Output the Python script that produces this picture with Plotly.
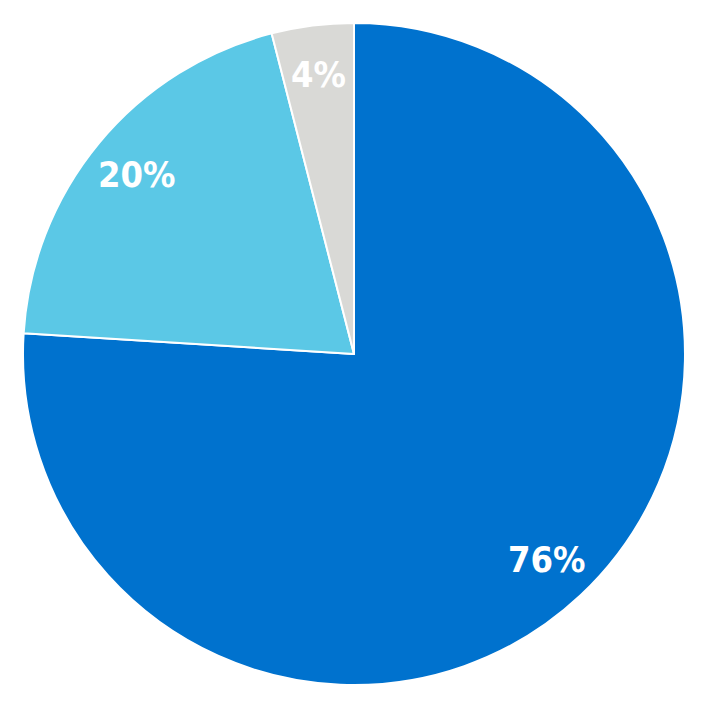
import math
import plotly.graph_objects as go

labels = ["Blue", "Light blue", "Gray"]
values = [76, 20, 4]
text_labels = ["76%", "20%", "4%"]
colors = ["#0072CE", "#5BC8E6", "#D9D9D6"]

fig = go.Figure(go.Pie(
    labels=labels,
    values=values,
    textinfo="none",
    sort=False,
    direction="clockwise",
    rotation=0,
    marker=dict(colors=colors, line=dict(color="white", width=2)),
    showlegend=False,
    hoverinfo="label+percent",
))

# labels placed at the middle angle of each slice, near the rim
total = sum(values)
cum = 0
for v, t in zip(values, text_labels):
    mid = (cum + v / 2) / total * 2 * math.pi
    cum += v
    r = 0.425
    fig.add_annotation(
        x=0.5 + r * math.sin(mid), y=0.5 + r * math.cos(mid),
        xref="paper", yref="paper", xanchor="center", yanchor="middle",
        text=t, showarrow=False,
        font=dict(family="Liberation Sans Narrow, DejaVu Sans Condensed, sans-serif",
                  size=36, color="white", weight="bold"),
    )

fig.update_layout(
    width=709, height=709,
    margin=dict(l=15, r=32, t=15, b=32),
    paper_bgcolor="white",
)

fig.write_html("out.html")
